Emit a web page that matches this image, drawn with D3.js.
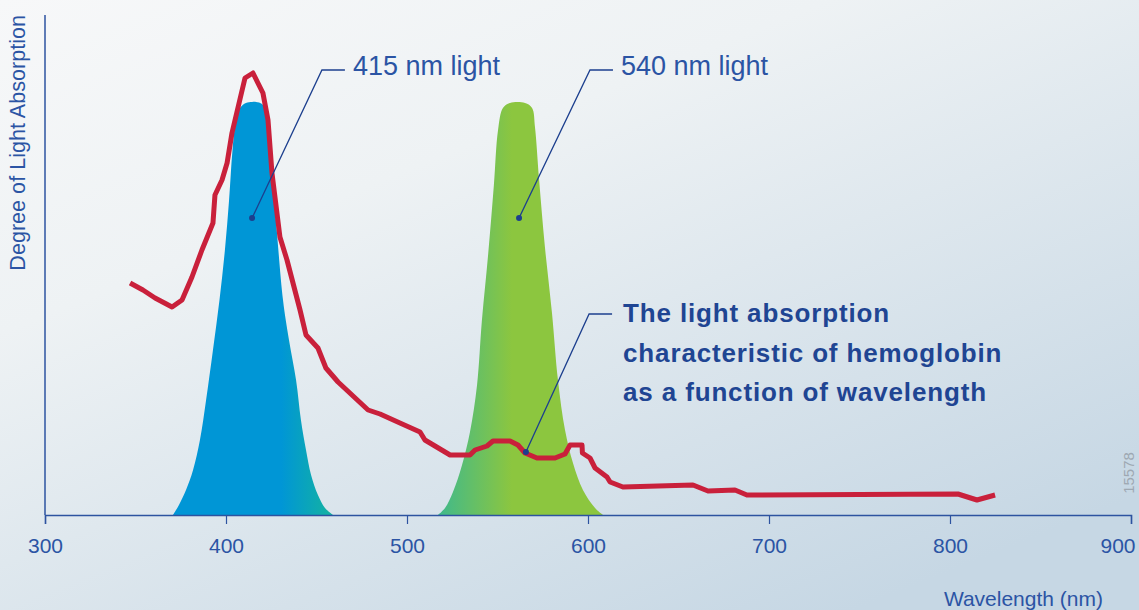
<!DOCTYPE html>
<html>
<head>
<meta charset="utf-8">
<script src="https://cdn.jsdelivr.net/npm/d3@7"></script>
<style>
	html, body { margin: 0; padding: 0; overflow: hidden; }
	svg { display: block; }
</style>
</head>
<body>
<svg id="chart" width="1139" height="610"></svg>
<script>
/////////////
// "DATA"  //
/////////////
var xTicks = [300, 400, 500, 600, 700, 800, 900];

// hemoglobin absorption curve (nm / relative absorption)
var hbNm = [347, 354.1, 360.8, 370.2, 375.7, 381.2, 386.7, 392.8, 393.9, 397.8, 400.6, 403.3, 410.5, 414.9,
	420.4, 423.2, 425.4, 429.8, 433.7, 440.9, 444.2, 450.8, 455.2, 461.9, 478.5, 485.1, 496.1, 507.2, 509.9,
	523.8, 534.8, 537.6, 544.2, 547.5, 556.9, 561.3, 565.2, 571.8, 581.8, 587.3, 590.1, 596.7, 596.9, 601.1,
	603.9, 610.5, 612.2, 619.3, 658, 666.3, 681.2, 687.8, 804.4, 814.9, 824.9];
var hbValue = [46.4, 45, 43.4, 41.6, 43, 47.6, 53, 58.4, 64, 67, 70.4, 76.4, 87.4, 88.4,
	84.4, 79, 68.4, 55.6, 51, 41, 36, 33.4, 29.4, 26.6, 21, 20.2, 18.4, 16.6, 15,
	12, 12, 13, 13.8, 14.8, 14.8, 14, 12.4, 11.4, 11.4, 12.2, 14, 14, 12.4, 11.4,
	9.4, 7.6, 6.6, 5.6, 6, 4.8, 5, 4, 4.2, 3, 4];

// 415 nm light spectrum
var blueNm = [370.7, 374, 377.9, 381.8, 385.6, 389, 392.8, 396.4, 399.4, 401.7, 403.6, 405.5, 407.7, 411, 414.4,
	416.6, 419.9, 422.1, 423.8, 425.4, 427.6, 431.5, 434.8, 438.7, 441.4, 444.2, 447, 450.8, 454.7, 459.1];
var blueValue = [0, 2, 5, 9, 15, 23, 33, 43, 53, 63, 73, 79, 81.4, 82.4, 82.6,
	82.6, 82.2, 80.6, 76, 69, 59, 43, 35, 27, 19, 13, 8, 4, 1.4, 0];

// 540 nm light spectrum
var greenNm = [517.1, 521, 525.4, 530.4, 534.8, 538.7, 541.4, 544.8, 548, 550.3, 553, 556.9, 565.2, 569.1,
	570.7, 573, 576.2, 580.1, 583.4, 587.3, 591.7, 597.2, 603.9, 608.3];
var greenValue = [0, 1.4, 4.6, 10, 16.6, 26, 39, 52, 66, 77, 81.4, 82.4, 82.4, 81.4,
	77.6, 67, 53.6, 40.4, 27, 17, 10.4, 5, 1.4, 0];

// callouts: dot, elbow, end of horizontal leader (nm, value)
var calloutLabels = ["415 nm light", "540 nm light"];
var calloutDot = [[414.4, 59.4], [561.9, 59.4]];
var calloutElbow = [[453, 89], [601.1, 89]];
var calloutEnd = [465.7, 613.8];

var hbLines = ["The light absorption", "characteristic of hemoglobin", "as a function of wavelength"];
var hbDot = [565.7, 12.6];
var hbElbow = [600.6, 40.2];
var hbEnd = 613.3;

/////////////////
// "CONSTANTS" //
/////////////////
var WIDTH = 1139;
var HEIGHT = 610;
var AXIS_LEFT = 45;
var AXIS_RIGHT = 1131;
var AXIS_BOTTOM = 515;
var AXIS_TOP = 15;
var AXIS_COLOR = "#2d53a0";
var TEXT_COLOR = "#2b54a4";
var BOLD_COLOR = "#1f4593";
var LEADER_COLOR = "#1c3f8e";
var RED = "#c9203b";
var FONT = "'Liberation Sans', Arial, Helvetica, sans-serif";

var svg = d3.select("#chart");
var defs = svg.append("defs");

var bg = defs.append("linearGradient")
	.attr("id", "bg")
	.attr("x1", 0).attr("y1", 0)
	.attr("x2", 0.75).attr("y2", 1);
bg.append("stop").attr("offset", 0).attr("stop-color", "#f7f8f9");
bg.append("stop").attr("offset", 0.35).attr("stop-color", "#eef2f4");
bg.append("stop").attr("offset", 1).attr("stop-color", "#c6d7e4");

svg.append("rect")
	.attr("width", WIDTH)
	.attr("height", HEIGHT)
	.attr("fill", "url(#bg)");

var x = d3.scaleLinear().domain([300, 900]).range([AXIS_LEFT, AXIS_RIGHT]);
var y = d3.scaleLinear().domain([0, 100]).range([AXIS_BOTTOM, AXIS_TOP]);

// gradients for the light bands, in user space so they follow the x scale
var blueGrad = defs.append("linearGradient")
	.attr("id", "blueGrad")
	.attr("gradientUnits", "userSpaceOnUse")
	.attr("x1", x(370)).attr("x2", x(459)).attr("y1", 0).attr("y2", 0);
blueGrad.append("stop").attr("offset", 0).attr("stop-color", "#0096d6");
blueGrad.append("stop").attr("offset", 0.68).attr("stop-color", "#0096d6");
blueGrad.append("stop").attr("offset", 1).attr("stop-color", "#14b3a0");

var greenGrad = defs.append("linearGradient")
	.attr("id", "greenGrad")
	.attr("gradientUnits", "userSpaceOnUse")
	.attr("x1", x(517)).attr("x2", x(608)).attr("y1", 0).attr("y2", 0);
greenGrad.append("stop").attr("offset", 0).attr("stop-color", "#3fb98c");
greenGrad.append("stop").attr("offset", 0.45).attr("stop-color", "#8cc63f");
greenGrad.append("stop").attr("offset", 1).attr("stop-color", "#8cc63f");

var area = d3.area()
	.x(function(d) { return x(d[0]); })
	.y0(y(0))
	.y1(function(d) { return y(d[1]); })
	.curve(d3.curveCatmullRom.alpha(0.5));

svg.append("path")
	.datum(d3.zip(blueNm, blueValue))
	.attr("fill", "url(#blueGrad)")
	.attr("d", area);

svg.append("path")
	.datum(d3.zip(greenNm, greenValue))
	.attr("fill", "url(#greenGrad)")
	.attr("d", area);

// hemoglobin curve
var line = d3.line()
	.x(function(d) { return x(d[0]); })
	.y(function(d) { return y(d[1]); });

svg.append("path")
	.datum(d3.zip(hbNm, hbValue))
	.attr("fill", "none")
	.attr("stroke", RED)
	.attr("stroke-width", 5)
	.attr("stroke-linejoin", "round")
	.attr("d", line);

// axes
var xAxis = svg.append("g")
	.attr("transform", "translate(0," + AXIS_BOTTOM + ")")
	.call(d3.axisBottom(x).tickValues(xTicks).tickSize(9).tickPadding(14).tickFormat(d3.format("d")));
xAxis.select(".domain").attr("stroke", AXIS_COLOR).attr("stroke-width", 1.5);
xAxis.selectAll(".tick line").attr("stroke", AXIS_COLOR).attr("stroke-width", 1.2);
xAxis.selectAll(".tick text")
	.attr("fill", TEXT_COLOR)
	.attr("font-family", FONT)
	.attr("font-size", 21);
// last label sits inside the frame
xAxis.selectAll(".tick text")
	.filter(function(d) { return d == 900; })
	.attr("text-anchor", "end")
	.attr("dx", 4);

svg.append("line")
	.attr("x1", AXIS_LEFT).attr("x2", AXIS_LEFT)
	.attr("y1", AXIS_TOP).attr("y2", AXIS_BOTTOM)
	.attr("stroke", AXIS_COLOR)
	.attr("stroke-width", 1.5);

svg.append("text")
	.attr("transform", "translate(25," + AXIS_TOP + ") rotate(-90)")
	.attr("text-anchor", "end")
	.attr("fill", TEXT_COLOR)
	.attr("font-family", FONT)
	.attr("font-size", 21.6)
	.text("Degree of Light Absorption");

svg.append("text")
	.attr("x", 1103)
	.attr("y", 606)
	.attr("text-anchor", "end")
	.attr("fill", TEXT_COLOR)
	.attr("font-family", FONT)
	.attr("font-size", 21)
	.text("Wavelength (nm)");

// callouts for the light bands
calloutLabels.forEach(function(label, i) {
	var dot = calloutDot[i], elbow = calloutElbow[i];
	svg.append("polyline")
		.attr("points", [
			[x(dot[0]), y(dot[1])],
			[x(elbow[0]), y(elbow[1])],
			[x(calloutEnd[i]), y(elbow[1])]
		].join(" "))
		.attr("fill", "none")
		.attr("stroke", LEADER_COLOR)
		.attr("stroke-width", 1.3);
	svg.append("circle")
		.attr("cx", x(dot[0])).attr("cy", y(dot[1]))
		.attr("r", 3)
		.attr("fill", LEADER_COLOR);
	svg.append("text")
		.attr("x", x(calloutEnd[i]) + 8)
		.attr("y", y(elbow[1]) + 5)
		.attr("fill", TEXT_COLOR)
		.attr("font-family", FONT)
		.attr("font-size", 27)
		.text(label);
});

// callout for the hemoglobin curve
svg.append("polyline")
	.attr("points", [
		[x(hbDot[0]), y(hbDot[1])],
		[x(hbElbow[0]), y(hbElbow[1])],
		[x(hbEnd), y(hbElbow[1])]
	].join(" "))
	.attr("fill", "none")
	.attr("stroke", LEADER_COLOR)
	.attr("stroke-width", 1.3);
svg.append("circle")
	.attr("cx", x(hbDot[0])).attr("cy", y(hbDot[1]))
	.attr("r", 3)
	.attr("fill", LEADER_COLOR);

var hbText = svg.append("text")
	.attr("fill", BOLD_COLOR)
	.attr("font-family", FONT)
	.attr("font-weight", "bold")
	.attr("font-size", 26)
	.attr("letter-spacing", 0.85);
hbLines.forEach(function(t, i) {
	hbText.append("tspan")
		.attr("x", x(hbEnd) + 11)
		.attr("y", y(hbElbow[1]) + 8 + i * 39.5)
		.text(t);
});

// figure number
svg.append("text")
	.attr("transform", "translate(1134,473) rotate(-90)")
	.attr("text-anchor", "middle")
	.attr("fill", "#9ea8b2")
	.attr("font-family", FONT)
	.attr("font-size", 15)
	.text("15578");
</script>
</body>
</html>
